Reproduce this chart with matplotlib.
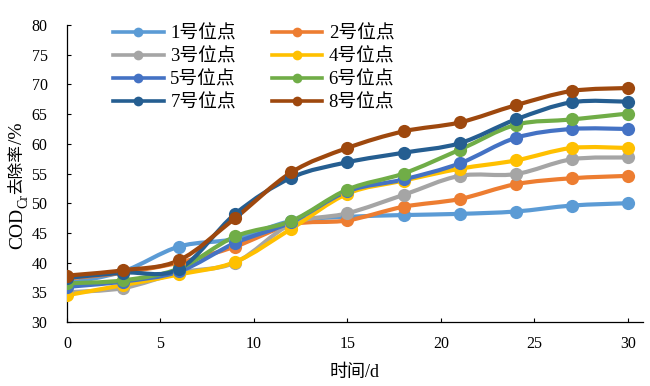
import numpy as np
import matplotlib.pyplot as plt
from matplotlib.path import Path
from matplotlib.patches import PathPatch
from matplotlib.lines import Line2D

plt.rcParams['font.family'] = ['Liberation Serif', 'Noto Sans CJK SC']

# data
days = [0, 3, 6, 9, 12, 15, 18, 21, 24, 27, 30]
site1 = [36.5, 38.5, 42.7, 44.0, 47.0, 47.7, 48.0, 48.2, 48.6, 49.6, 50.0]
site2 = [37.3, 38.3, 40.0, 42.7, 46.4, 47.1, 49.4, 50.7, 53.2, 54.2, 54.6]
site3 = [35.0, 35.7, 38.3, 40.0, 46.5, 48.3, 51.4, 54.6, 54.9, 57.4, 57.7]
site4 = [34.5, 36.2, 38.0, 40.1, 45.7, 51.6, 53.8, 55.8, 57.2, 59.3, 59.3]
site5 = [35.9, 36.8, 38.5, 43.3, 46.8, 52.0, 54.0, 56.7, 61.0, 62.5, 62.5]
site6 = [36.5, 37.0, 39.0, 44.4, 47.0, 52.3, 55.0, 59.0, 63.2, 64.1, 65.1]
site7 = [37.4, 38.3, 38.9, 48.2, 54.3, 56.9, 58.5, 60.1, 64.1, 67.0, 67.1]
site8 = [37.8, 38.7, 40.4, 47.5, 55.2, 59.3, 62.1, 63.6, 66.5, 68.9, 69.4]

series = [site1, site2, site3, site4, site5, site6, site7, site8]
labels = ["1号位点", "2号位点", "3号位点", "4号位点",
          "5号位点", "6号位点", "7号位点", "8号位点"]
colors = ["#5B9BD5", "#ED7D31", "#A5A5A5", "#FFC000",
          "#4472C4", "#70AD47", "#255E91", "#9E480E"]


def smooth_path(x, y):
    # Excel-like smoothed line: cubic bezier segments through the points
    p = np.column_stack([x, y]).astype(float)
    n = len(p)
    verts = [p[0]]
    codes = [Path.MOVETO]
    for i in range(n - 1):
        p0 = p[i - 1] if i > 0 else p[i]
        p3 = p[i + 2] if i + 2 < n else p[i + 1]
        c1 = p[i] + (p[i + 1] - p0) / 6
        c2 = p[i + 1] - (p3 - p[i]) / 6
        verts += [c1, c2, p[i + 1]]
        codes += [Path.CURVE4] * 3
    return Path(verts, codes)


fig = plt.figure(figsize=(6.5, 3.86), dpi=100)
ax = fig.add_axes([0.103, 0.166, 0.886, 0.769])

handles = []
for vals, lab, col in zip(series, labels, colors):
    ax.add_patch(PathPatch(smooth_path(days, vals), facecolor='none',
                           edgecolor=col, lw=3.0, capstyle='round', zorder=2))
    ax.plot(days, vals, 'o', color=col, markersize=9.5, markeredgewidth=0, zorder=3)
    handles.append(Line2D([], [], color=col, lw=2.6, marker='o',
                          markersize=7, markeredgewidth=0, label=lab))

ax.set_xlim(0, 30.8)
ax.set_ylim(30, 80)
ax.set_xticks(range(0, 31, 5))
ax.set_yticks(range(30, 81, 5))
ax.tick_params(direction='in', length=3, width=0.8, labelsize=11.5)
ax.tick_params(axis='x', pad=10)
ax.tick_params(axis='y', pad=14)
for s in ['top', 'right']:
    ax.spines[s].set_visible(False)
for s in ['left', 'bottom']:
    ax.spines[s].set_linewidth(0.9)

ax.set_xlabel("时间/d", fontsize=13, labelpad=9)

# y label with subscript, built from pieces
t1 = fig.text(0.027, 0.355, "COD", rotation=90, fontsize=14,
              ha='center', va='bottom')
t2 = ax.annotate("Cr", xy=(1.0, 1.0), xycoords=t1, xytext=(3, 0),
                 textcoords='offset points', rotation=90, fontsize=10,
                 ha='right', va='bottom', annotation_clip=False)
t3 = ax.annotate("去除率", xy=(0.5, 1.0), xycoords=(t1, t2), rotation=90,
                 fontsize=12, ha='center', va='bottom', annotation_clip=False)
ax.annotate("/%", xy=(0.5, 1.0), xycoords=(t1, t3), rotation=90,
            fontsize=14, ha='center', va='bottom', annotation_clip=False)

# legend filled row by row: 1 2 / 3 4 / 5 6 / 7 8
order = [0, 2, 4, 6, 1, 3, 5, 7]
ax.legend(handles=[handles[i] for i in order], ncol=2, loc='upper left',
          bbox_to_anchor=(0.174, 0.936), bbox_transform=fig.transFigure,
          borderaxespad=0, borderpad=0, frameon=False, fontsize=13.5,
          handlelength=2.7, handletextpad=0.35, columnspacing=1.9,
          labelspacing=0.3)

fig.savefig("out.png", dpi=100)
